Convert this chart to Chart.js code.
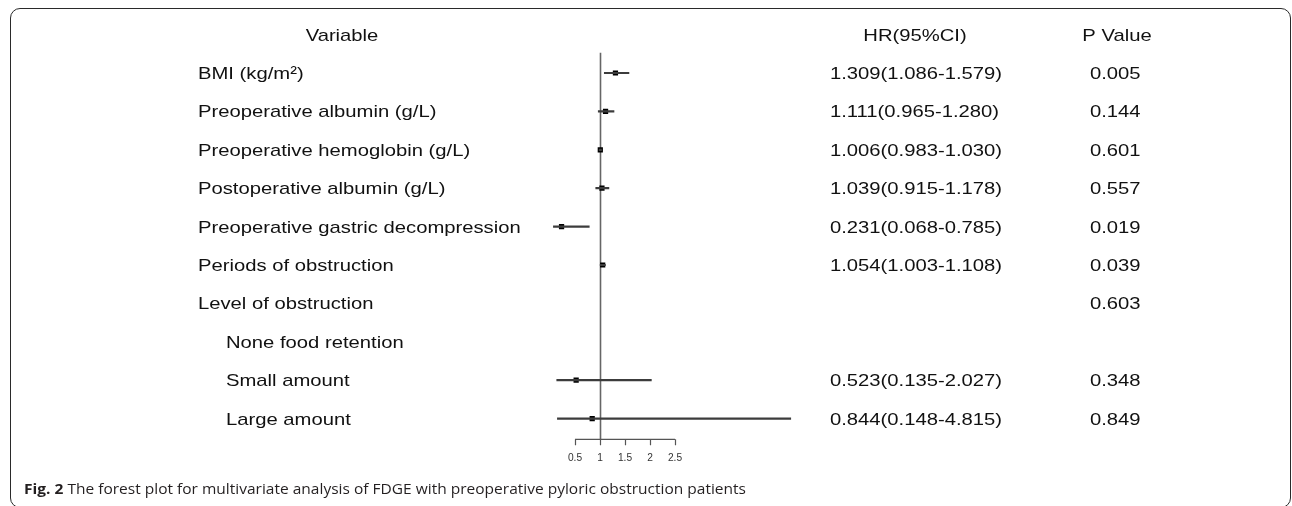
<!DOCTYPE html>
<html>
<head>
<meta charset="utf-8">
<script src="https://cdn.jsdelivr.net/npm/chart.js@4.4.1/dist/chart.umd.min.js"></script>
<style>
  html, body { margin: 0; padding: 0; background: #fff; overflow: hidden; }
  #wrap { position: relative; width: 1292px; height: 506px; }
  #frame { position: absolute; left: 10px; top: 8px; width: 1281px; height: 500px;
           box-sizing: border-box; border: 1.5px solid #2a2a2a; border-radius: 10px; }
  #c { position: absolute; left: 0; top: 0; }
  #caption { position: absolute; left: 24px; top: 478px; white-space: nowrap;
             font-family: "Open Sans", "Noto Sans", sans-serif; font-size: 15px; color: #231f20;
             transform-origin: 0 0; line-height: 20px; }
  #caption b { font-weight: 700; }
</style>
</head>
<body>
<div id="wrap">
  <div id="frame"></div>
  <canvas id="c" width="1292" height="506"></canvas>
  <div id="caption"><b>Fig. 2</b> The forest plot for multivariate analysis of FDGE with preoperative pyloric obstruction patients</div>
</div>
<script>
// ---------- data ----------
const categories = [
  "BMI (kg/m\u00B2)",
  "Preoperative albumin (g/L)",
  "Preoperative hemoglobin (g/L)",
  "Postoperative albumin (g/L)",
  "Preoperative gastric decompression",
  "Periods of obstruction",
  "Level of obstruction",
  "None food retention",
  "Small amount",
  "Large amount"
];
const indentLevel = [0, 0, 0, 0, 0, 0, 0, 1, 1, 1];
const hrValues    = [1.309, 1.111, 1.006, 1.039, 0.231, 1.054, null, null, 0.523, 0.844];
const lowerCI     = [1.086, 0.965, 0.983, 0.915, 0.068, 1.003, null, null, 0.135, 0.148];
const upperCI     = [1.579, 1.280, 1.030, 1.178, 0.785, 1.108, null, null, 2.027, 4.815];
const pValues     = ["0.005", "0.144", "0.601", "0.557", "0.019", "0.039", "0.603", "", "0.348", "0.849"];
const xTickValues = [0.5, 1, 1.5, 2, 2.5];
const xTickLabels = ["0.5", "1", "1.5", "2", "2.5"];
const headerVariable = "Variable";
const headerHR = "HR(95%CI)";
const headerP = "P Value";
const referenceValue = 1;

// ---------- helpers ----------
const SX = 1.19;
const FONT = '17px "Liberation Sans", Arial, sans-serif';
function drawText(ctx, s, x, y, align, font, sx, color) {
  ctx.save();
  ctx.font = font;
  const w = ctx.measureText(s).width * sx;
  const x0 = align === 'center' ? x - w / 2 : (align === 'right' ? x - w : x);
  ctx.translate(x0, y);
  ctx.scale(sx, 1);
  ctx.textAlign = 'left';
  ctx.textBaseline = 'alphabetic';
  ctx.fillStyle = color || '#111';
  ctx.fillText(s, 0, 0);
  ctx.restore();
}
const hrText = hrValues.map((v, i) => v == null ? "" :
  v.toFixed(3) + "(" + lowerCI[i].toFixed(3) + "-" + upperCI[i].toFixed(3) + ")");

const forestPlugin = {
  id: 'forest',
  beforeDatasetsDraw(chart) {
    const ctx = chart.ctx, xs = chart.scales.x, area = chart.chartArea;
    const axisY = area.bottom + 1.5;
    const xr = Math.round(xs.getPixelForValue(referenceValue)) + 0.5;
    ctx.save();
    ctx.strokeStyle = '#666';
    ctx.lineWidth = 1.6;
    ctx.beginPath();
    ctx.moveTo(xr, area.top - 1);
    ctx.lineTo(xr, axisY);
    ctx.stroke();
    ctx.restore();
  },
  afterDraw(chart) {
    const ctx = chart.ctx, xs = chart.scales.x, ys = chart.scales.y, area = chart.chartArea;
    const axisY = area.bottom + 1.5;
    // x axis
    ctx.save();
    ctx.strokeStyle = '#555';
    ctx.lineWidth = 1.2;
    ctx.beginPath();
    ctx.moveTo(xs.getPixelForValue(xTickValues[0]), axisY);
    ctx.lineTo(xs.getPixelForValue(xTickValues[xTickValues.length - 1]), axisY);
    xTickValues.forEach(v => {
      const px = Math.round(xs.getPixelForValue(v)) + 0.5;
      ctx.moveTo(px, axisY);
      ctx.lineTo(px, axisY + 6);
    });
    ctx.stroke();
    ctx.restore();
    xTickValues.forEach((v, i) => {
      drawText(ctx, xTickLabels[i], xs.getPixelForValue(v), axisY + 21.5, 'center',
        '10px "Liberation Sans", Arial, sans-serif', 1.02, '#333');
    });
    // text columns
    const rowH = ys.getPixelForValue(1) - ys.getPixelForValue(0);
    const headerBase = ys.getPixelForValue(0) - rowH + 6;
    drawText(ctx, headerVariable, 342, headerBase, 'center', FONT, SX);
    drawText(ctx, headerHR, 915, headerBase, 'center', FONT, SX);
    drawText(ctx, headerP, 1117, headerBase, 'center', FONT, SX);
    categories.forEach((lab, i) => {
      const base = ys.getPixelForValue(i) + 6;
      drawText(ctx, lab, indentLevel[i] ? 226 : 198, base, 'left', FONT, SX);
      if (hrText[i]) drawText(ctx, hrText[i], 830, base, 'left', FONT, SX);
      if (pValues[i]) drawText(ctx, pValues[i], 1090, base, 'left', FONT, SX);
    });
  }
};

new Chart(document.getElementById('c'), {
  type: 'bar',
  data: {
    labels: categories,
    datasets: [
      {
        type: 'bar',
        indexAxis: 'y',
        data: categories.map((_, i) => lowerCI[i] == null ? null : [lowerCI[i], upperCI[i]]),
        backgroundColor: '#3c3c3c',
        borderWidth: 0,
        barThickness: 1.5,
        grouped: false,
        borderSkipped: false
      },
      {
        type: 'line',
        indexAxis: 'y',
        data: hrValues,
        showLine: false,
        pointStyle: 'rect',
        pointRadius: 3.7,
        pointHoverRadius: 3.7,
        pointBackgroundColor: '#000',
        pointBorderWidth: 0,
        borderWidth: 0
      }
    ]
  },
  options: {
    indexAxis: 'y',
    responsive: false,
    animation: false,
    devicePixelRatio: 1,
    events: [],
    layout: { padding: { left: 550, right: 492, top: 53.8, bottom: 68.2 } },
    scales: {
      x: { type: 'linear', min: 0, max: 5, display: false },
      y: { type: 'category', display: false, offset: true }
    },
    plugins: { legend: { display: false }, tooltip: { enabled: false }, title: { display: false } }
  },
  plugins: [forestPlugin]
});

// fit caption width to the reference
(function () {
  const cap = document.getElementById('caption');
  const w = cap.getBoundingClientRect().width;
  const target = 722;
  cap.style.transform = 'scaleX(' + (target / w) + ')';
})();
</script>
</body>
</html>
